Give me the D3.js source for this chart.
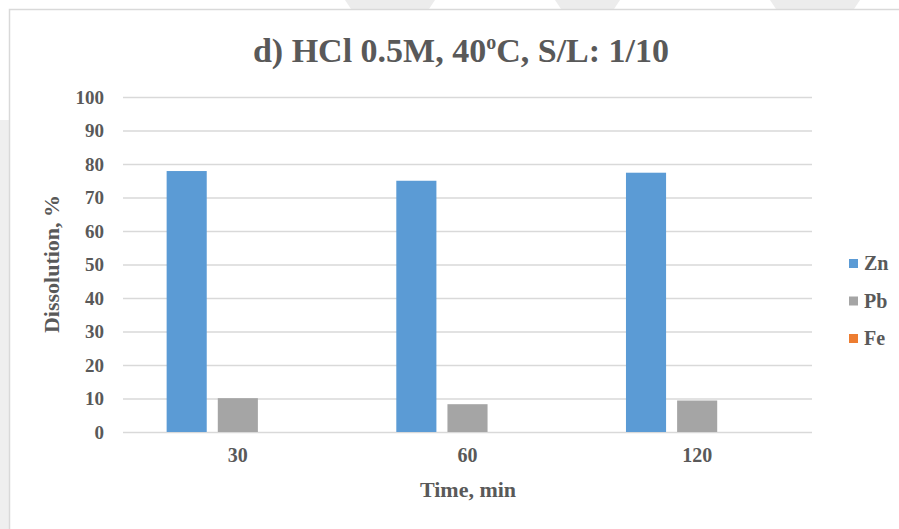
<!DOCTYPE html>
<html>
<head>
<meta charset="utf-8">
<script src="https://cdn.jsdelivr.net/npm/d3@7"></script>
<style>
  body { margin: 0; background: #fff; }
  svg { display: block; }
  text { font-family: 'Liberation Serif', 'Times New Roman', serif; font-weight: bold; fill: #595959; }
</style>
</head>
<body>
<div class="chart"></div>
<script>
// data
var times = ['30', '60', '120'];
var series = ['Zn', 'Pb', 'Fe'];
var zn = [77.9, 75.0, 77.4];
var pb = [10.1, 8.3, 9.4];
var fe = [0, 0, 0];
var yTicks = [0, 10, 20, 30, 40, 50, 60, 70, 80, 90, 100];
var colors = ['#5B9BD5', '#A5A5A5', '#ED7D31'];

const W = 899, H = 529;
var margin = ({top: 97, right: 87, bottom: 97, left: 123});   // plot area 123..812 x 97..432

var svg = d3.select('.chart')
            .append('svg')
            .attr('width', W)
            .attr('height', H);

// watermark stripes behind the chart frame
var stripes = [[345, 435], [555, 620], [770, 860]];
svg.selectAll('.stripe')
    .data(stripes)
    .enter()
    .append('polygon')
    .attr('class', 'stripe')
    .attr('points', d => `${d[0]},0 ${d[1]},0 ${d[1] - 8},12 ${d[0] + 8},12`)
    .attr('fill', '#ececec');
svg.append('rect')
    .attr('x', 0).attr('y', 120)
    .attr('width', 10).attr('height', H - 120)
    .attr('fill', '#efefef');

// chart frame
svg.append('rect')
    .attr('x', 9.5).attr('y', 9.5)
    .attr('width', W + 10).attr('height', H + 10)
    .attr('fill', '#fff')
    .attr('stroke', '#d9d9d9')
    .attr('stroke-width', 1.5);

var x0 = d3.scaleBand()
            .domain(times)
            .range([margin.left, W - margin.right])
            .paddingInner(0.38)
            .paddingOuter(0.19);

var x1 = d3.scaleBand()
            .domain(series)
            .range([0, x0.bandwidth()])
            .paddingInner(0.216);

var y = d3.scaleLinear()
            .domain([0, 100])
            .range([H - margin.bottom, margin.top]);

var palette = d3.scaleOrdinal().domain(series).range(colors);

// gridlines + y labels
var yAxis = svg.append('g')
    .attr('transform', `translate(${margin.left},0)`)
    .call(d3.axisLeft(y).tickValues(yTicks).tickSize(-(W - margin.left - margin.right)).tickPadding(19));
yAxis.select('.domain').remove();
yAxis.selectAll('line').attr('stroke', '#d9d9d9').attr('stroke-width', 1.5);
yAxis.selectAll('text')
    .style('font-family', 'Liberation Serif')
    .style('font-weight', 'bold')
    .style('font-size', '19px')
    .attr('fill', '#595959');

// x labels
var xAxis = svg.append('g')
    .attr('transform', `translate(0,${H - margin.bottom})`)
    .call(d3.axisBottom(x0).tickSize(0).tickPadding(16));
xAxis.select('.domain').remove();
xAxis.selectAll('text')
    .style('font-family', 'Liberation Serif')
    .style('font-weight', 'bold')
    .style('font-size', '20px')
    .attr('fill', '#595959');

// bars
var rows = times.map((t, i) => ({time: t, values: [zn[i], pb[i], fe[i]]}));
var groups = svg.selectAll('.grp')
    .data(rows)
    .enter()
    .append('g')
    .attr('class', 'grp')
    .attr('transform', d => `translate(${x0(d.time)},0)`);

groups.selectAll('rect')
    .data(d => d.values.map((v, j) => ({key: series[j], value: v})))
    .enter()
    .append('rect')
    .attr('x', d => x1(d.key))
    .attr('y', d => y(d.value))
    .attr('width', x1.bandwidth())
    .attr('height', d => y(0) - y(d.value))
    .attr('fill', d => palette(d.key));

// titles
svg.append('text')
    .attr('x', 461)
    .attr('y', 62)
    .attr('text-anchor', 'middle')
    .style('font-size', '34px')
    .html('d) HCl 0.5M, 40<tspan dy="-13" font-size="20px">o</tspan><tspan dy="13">C, S/L: 1/10</tspan>');

svg.append('text')
    .attr('x', 468)
    .attr('y', 497)
    .attr('text-anchor', 'middle')
    .style('font-size', '22px')
    .text('Time, min');

svg.append('text')
    .attr('transform', 'translate(59,264) rotate(-90)')
    .attr('text-anchor', 'middle')
    .style('font-size', '22px')
    .text('Dissolution, %');

// legend
var legend = svg.selectAll('.leg')
    .data(series)
    .enter()
    .append('g')
    .attr('class', 'leg')
    .attr('transform', (d, i) => `translate(849,${259 + i * 37.5})`);
legend.append('rect')
    .attr('width', 9).attr('height', 9)
    .attr('fill', d => palette(d));
legend.append('text')
    .attr('x', 15)
    .attr('y', 11)
    .style('font-size', '20px')
    .text(d => d);
</script>
</body>
</html>
